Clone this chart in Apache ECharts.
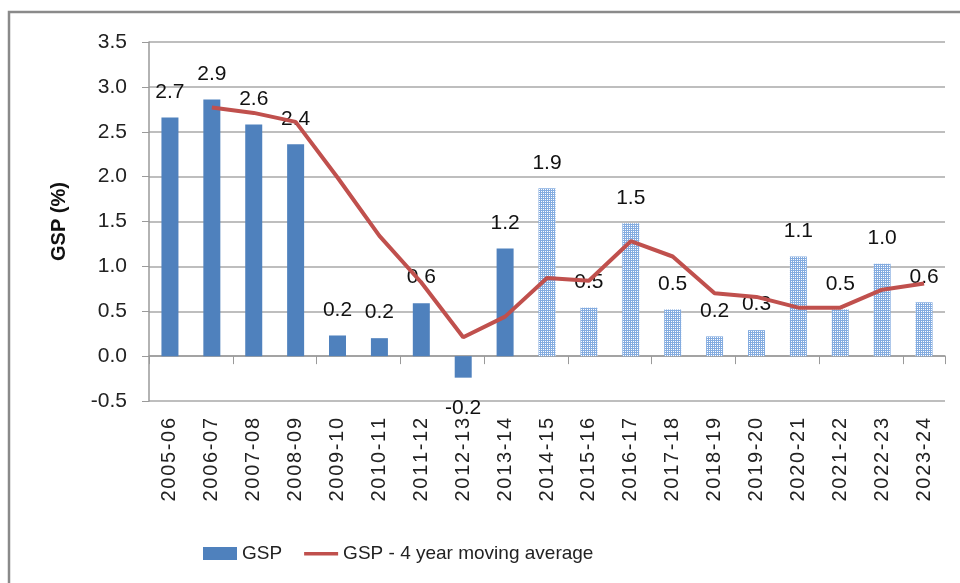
<!DOCTYPE html>
<html>
<head>
<meta charset="utf-8">
<script src="https://cdn.jsdelivr.net/npm/echarts@6/dist/echarts.min.js"></script>
<style>
  html, body { margin: 0; padding: 0; background: #fff; }
  #chart { width: 960px; height: 583px; }
</style>
</head>
<body>
<div id="chart"></div>
<script>
  var years = ['2005-06', '2006-07', '2007-08', '2008-09', '2009-10', '2010-11', '2011-12', '2012-13', '2013-14', '2014-15',
    '2015-16', '2016-17', '2017-18', '2018-19', '2019-20', '2020-21', '2021-22', '2022-23', '2023-24'];
  var gsp = [2.66, 2.86, 2.58, 2.36, 0.23, 0.2, 0.59, -0.24, 1.2, 1.87, 0.54, 1.48, 0.52, 0.22, 0.29, 1.11, 0.52, 1.03, 0.6];
  var movingAvg = [null, 2.77, 2.71, 2.61, 1.99, 1.34, 0.82, 0.21, 0.44, 0.87, 0.84, 1.28, 1.11, 0.70, 0.66, 0.54, 0.54, 0.74, 0.81];
  var firstProjected = '2014-15';
  var yTicks = { min: -0.5, max: 3.5, step: 0.5 };

  var font = 'Liberation Sans';

  // hatched fill for the projected years
  function hatch() {
    var c = document.createElement('canvas');
    c.width = 4;
    c.height = 4;
    var ctx = c.getContext('2d');
    ctx.fillStyle = '#84ace0';
    ctx.fillRect(0, 0, 4, 4);
    ctx.fillStyle = '#ffffff';
    ctx.fillRect(1, 1, 1, 1);
    ctx.fillRect(3, 3, 1, 1);
    ctx.fillRect(1, 3, 1, 1);
    ctx.fillRect(3, 1, 1, 1);
    return c;
  }
  var pattern = { image: hatch(), repeat: 'repeat' };
  var splitAt = years.indexOf(firstProjected);

  var barData = gsp.map(function(v, i) {
    var item = { value: v, itemStyle: { color: i >= splitAt ? pattern : '#4f81bd' } };
    if (v < 0) {
      item.label = { position: 'bottom', distance: 20 };
    }
    return item;
  });

  // flat line icon: the two moveTo points keep the box 34x13 so it is not stretched
  var lineIcon = 'path://M0,0 M34,13 M0,5 L34,5 L34,8.5 L0,8.5 Z';

  var chart = echarts.init(document.getElementById('chart'));
  chart.setOption({
    animation: false,
    textStyle: { fontFamily: font },
    graphic: [{
      type: 'rect',
      shape: { x: 9, y: 12, width: 1000, height: 1000 },
      style: { fill: 'none', stroke: '#8a8a8a', lineWidth: 2.5 },
      z: 0
    }],
    grid: { left: 149, right: 15, top: 42, bottom: 182 },
    legend: {
      left: 198,
      top: 539,
      itemWidth: 34,
      itemHeight: 13,
      itemGap: 22,
      textStyle: { fontSize: 19, color: '#222' },
      data: [
        { name: 'GSP', icon: 'rect' },
        { name: 'GSP - 4 year moving average', icon: lineIcon }
      ]
    },
    xAxis: [{
      type: 'category',
      position: 'bottom',
      data: years,
      axisLine: { onZero: true, lineStyle: { color: '#9a9a9a', width: 1.5 } },
      axisTick: { show: true, length: 8, lineStyle: { color: '#9a9a9a' } },
      axisLabel: { show: false }
    }, {
      type: 'category',
      position: 'bottom',
      data: years,
      axisLine: { show: false, onZero: false },
      axisTick: { show: false },
      axisLabel: {
        rotate: 90,
        margin: 17,
        fontSize: 20,
        color: '#222',
        formatter: function(v) { return v.split('').join('\u200A'); }
      }
    }],
    yAxis: {
      type: 'value',
      min: yTicks.min,
      max: yTicks.max,
      interval: yTicks.step,
      name: 'GSP (%)',
      nameLocation: 'middle',
      nameGap: 80,
      nameTextStyle: { fontSize: 20, fontWeight: 'bold', color: '#111' },
      axisLine: { show: true, lineStyle: { color: '#9a9a9a', width: 1.5 } },
      axisTick: { show: true, length: 7, lineStyle: { color: '#9a9a9a' } },
      axisLabel: {
        fontSize: 21,
        color: '#222',
        margin: 22,
        formatter: function(v) { return v.toFixed(1); }
      },
      splitLine: { lineStyle: { color: '#a8a8a8', width: 1.5 } }
    },
    series: [{
      name: 'GSP',
      type: 'bar',
      barWidth: 17,
      data: barData,
      itemStyle: { color: '#4f81bd' },
      label: {
        show: true,
        position: 'top',
        distance: 15,
        fontSize: 21,
        color: '#111',
        formatter: function(p) { return p.value.toFixed(1); }
      },
      z: 2
    }, {
      name: 'GSP - 4 year moving average',
      type: 'line',
      data: movingAvg,
      showSymbol: false,
      symbol: 'none',
      lineStyle: { color: '#c0504d', width: 4 },
      itemStyle: { color: '#c0504d' },
      z: 3
    }]
  });
</script>
</body>
</html>
